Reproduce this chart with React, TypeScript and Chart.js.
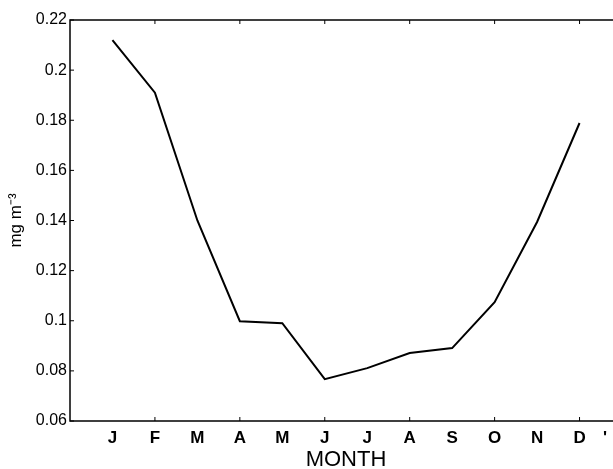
import React, { useEffect, useRef } from "react";
import { Chart, registerables } from "chart.js";
Chart.register(...registerables);

const months = ["J", "F", "M", "A", "M", "J", "J", "A", "S", "O", "N", "D"];
const values = [0.212, 0.191, 0.14, 0.0998, 0.099, 0.0767, 0.0811, 0.0871, 0.0891, 0.1074, 0.1394, 0.1789];
const yTicks = [0.06, 0.08, 0.1, 0.12, 0.14, 0.16, 0.18, 0.2, 0.22];
const yTickLabels = ["0.06", "0.08", "0.1", "0.12", "0.14", "0.16", "0.18", "0.2", "0.22"];
const xMarkTicks = [2, 4, 6, 8, 10, 12];
const strayTickPos = 12.6;
const strayTickLabel = "'";

const FONT = "'Liberation Sans', Arial, Helvetica, sans-serif";

const framePlugin = {
  id: "frame",
  afterDraw(chart: any) {
    const { ctx, chartArea, scales } = chart;
    const { left, top, right, bottom } = chartArea;
    ctx.save();
    ctx.strokeStyle = "#000";
    ctx.lineWidth = 1.5;
    ctx.beginPath();
    ctx.moveTo(right + 20, top);
    ctx.lineTo(left, top);
    ctx.lineTo(left, bottom);
    ctx.lineTo(right + 20, bottom);
    ctx.stroke();
    ctx.lineWidth = 1;
    ctx.beginPath();
    for (const v of xMarkTicks) {
      const x = scales.x.getPixelForValue(v);
      ctx.moveTo(x, bottom);
      ctx.lineTo(x, bottom - 4);
      ctx.moveTo(x, top);
      ctx.lineTo(x, top + 4);
    }
    for (const v of yTicks) {
      const y = scales.y.getPixelForValue(v);
      ctx.moveTo(left, y);
      ctx.lineTo(left + 4, y);
    }
    ctx.stroke();
    ctx.restore();
  },
};

export default function App() {
  const ref = useRef<HTMLCanvasElement | null>(null);
  useEffect(() => {
    if (!ref.current) return;
    const chart = new Chart(ref.current, {
      type: "line",
      data: {
        datasets: [
          {
            data: values.map((v, i) => ({ x: i + 1, y: v })),
            borderColor: "#000",
            borderWidth: 2,
            pointRadius: 0,
            tension: 0,
            fill: false,
          },
        ],
      },
      options: {
        animation: false,
        responsive: false,
        maintainAspectRatio: false,
        layout: { padding: { left: 0, top: 20, right: 18, bottom: 0 } },
        plugins: { legend: { display: false }, tooltip: { enabled: false } },
        scales: {
          x: {
            type: "linear",
            min: 0,
            max: 13,
            grid: { display: false, drawTicks: false },
            border: { display: false },
            afterBuildTicks: (scale: any) => {
              scale.ticks = [...months.map((_, i) => ({ value: i + 1 })), { value: strayTickPos }];
            },
            afterFit: (scale: any) => {
              scale.height = 48;
            },
            ticks: {
              autoSkip: false,
              maxRotation: 0,
              padding: 7,
              color: "#000",
              font: { family: FONT, size: 17, weight: "bold" },
              callback: (v: any) => {
                if (Math.abs(v - strayTickPos) < 1e-6) return strayTickLabel;
                return months[Math.round(v) - 1];
              },
            },
            title: {
              display: true,
              text: "MONTH",
              color: "#000",
              font: { family: FONT, size: 22 },
              padding: { top: 0, bottom: -4 },
            },
          },
          y: {
            type: "linear",
            min: 0.06,
            max: 0.22,
            grid: { display: false, drawTicks: false },
            border: { display: false },
            afterBuildTicks: (scale: any) => {
              scale.ticks = yTicks.map((v) => ({ value: v }));
            },
            afterFit: (scale: any) => {
              scale.width = 70;
            },
            ticks: {
              padding: 3,
              color: "#000",
              font: { family: FONT, size: 16 },
              callback: (v: any) => {
                const i = yTicks.findIndex((t) => Math.abs(t - v) < 1e-6);
                return i >= 0 ? yTickLabels[i] : "";
              },
            },
            title: {
              display: true,
              text: "mg m⁻³",
              color: "#000",
              font: { family: FONT, size: 17 },
              padding: { top: 6, bottom: 0 },
            },
          },
        },
      },
      plugins: [framePlugin],
    });
    return () => chart.destroy();
  }, []);
  return (
    <div style={{ position: "fixed", left: 0, top: 0, width: 613, height: 469, overflow: "hidden", background: "#fff" }}>
      <canvas ref={ref} width={640} height={469} style={{ display: "block", width: 640, height: 469 }} />
    </div>
  );
}
